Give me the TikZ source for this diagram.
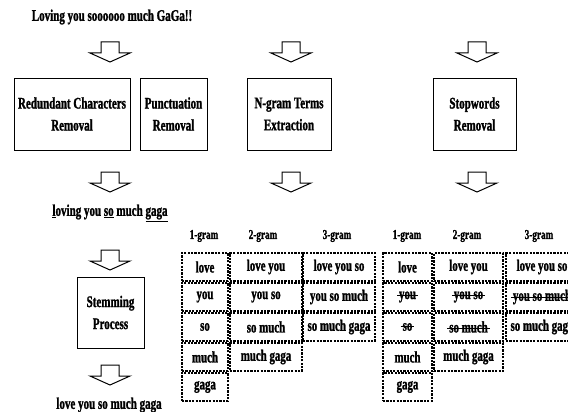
\documentclass[tikz,border=0pt]{standalone}
\usepackage{fontspec}
\setmainfont{Liberation Serif}[FakeStretch=0.68, BoldFeatures={FakeBold=1.3}]
\usetikzlibrary{calc}

\newcommand{\mainfont}{\bfseries\fontsize{16.2}{22}\selectfont}
\newcommand{\cellfont}{\bfseries\fontsize{16}{18}\selectfont}
\newcommand{\headfont}{\bfseries\fontsize{13.5}{15}\selectfont}
\newcommand{\strk}[1]{\setbox0\hbox{\kern2pt#1\kern2pt}\rlap{\rule[0.5ex]{\wd0}{0.6pt}}\box0}
% block arrow pointing down, top centre at #1
\newcommand{\blockdown}[1]{\draw[blockarrow] (#1) ++(-9,0) -- ++(18,0) -- ++(0,11) -- ++(11,0) -- ++(-20,9) -- ++(-20,-9) -- ++(11,0) -- cycle;}

\tikzset{
  procbox/.style={draw, line width=0.9pt, align=center, font=\mainfont, minimum height=72, inner sep=2pt},
  plaintext/.style={font=\mainfont, inner sep=0pt},
  gramhead/.style={font=\headfont, inner sep=0pt},
  cell/.style={draw, line width=1.6pt, dash pattern=on 2.2pt off 1.2pt, font=\cellfont, minimum height=28, inner sep=0pt},
  blockarrow/.style={line width=1pt, fill=white, line join=miter}
}

\begin{document}
\begin{tikzpicture}[x=1pt, y=-1pt]
	\useasboundingbox (0,0) rectangle (568,412);
	\pgfmathsetmacro{\rowtop}{253}		%top of the gram tables
	\pgfmathsetmacro{\rowstep}{30}		%row pitch of the gram tables

	%texts
	\node[plaintext] (input) at (112,17) {Loving you soooooo much GaGa!!};
	\node[plaintext] (cleaned) at (110,213) {\underline{l}oving you \underline{so} much \underline{gaga}};
	\node[plaintext] (stemmed) at (109,405) {love you so much gaga};

	%process boxes
	\node[procbox, minimum width=116] (redund) at (72,114) {Redundant Characters\\Removal};
	\node[procbox, minimum width=67] (punct) at (173.5,114) {Punctuation\\Removal};
	\node[procbox, minimum width=84] (ngram) at (289,114) {N-gram Terms\\Extraction};
	\node[procbox, minimum width=83] (stopw) at (474.5,114) {Stopwords\\Removal};
	\node[procbox, minimum width=67, minimum height=71] (stem) at (110.5,312.5) {Stemming\\Process};

	%arrows
	\coordinate (a1) at (110,42);
	\coordinate (a2) at (291,42);
	\coordinate (a3) at (477,42);
	\coordinate (a4) at (110,172);
	\coordinate (a5) at (291,172);
	\coordinate (a6) at (477,172);
	\coordinate (a7) at (110,250);
	\coordinate (a8) at (110,365);
	\foreach \a in {a1,a2,a3,a4,a5,a6,a7,a8}
		\blockdown{\a};

	%headers
	\foreach \x/\n [count=\k] in {204/1,263/2,337/3,407/1,467/2,539/3}
		\node[gramhead] (head\k) at (\x,236) {\n-gram};

	%n-gram tables
	\foreach \txt [count=\i] in {love,you,so,much,gaga}
		\node[cell, minimum width=46] (na\i) at (205,{\rowtop-16+\rowstep*\i}) {\txt};
	\foreach \txt [count=\i] in {love you,you so,so much,much gaga}
		\node[cell, minimum width=72] (nb\i) at (266,{\rowtop-16+\rowstep*\i}) {\txt};
	\foreach \txt [count=\i] in {love you so,you so much,so much gaga}
		\node[cell, minimum width=72] (nc\i) at (339,{\rowtop-16+\rowstep*\i}) {\txt};

	%stopword tables
	\foreach \txt [count=\i] in {love,\strk{you},\strk{so},much,gaga}
		\node[cell, minimum width=49] (sa\i) at (407.5,{\rowtop-16+\rowstep*\i}) {\txt};
	\foreach \txt [count=\i] in {love you,\strk{you so},\strk{so much},much gaga}
		\node[cell, minimum width=69] (sb\i) at (468.5,{\rowtop-16+\rowstep*\i}) {\txt};
	\foreach \txt [count=\i] in {love you so,\strk{you so much},so much gaga}
		\node[cell, minimum width=72] (sc\i) at (542,{\rowtop-16+\rowstep*\i}) {\txt};

\end{tikzpicture}
\end{document}
